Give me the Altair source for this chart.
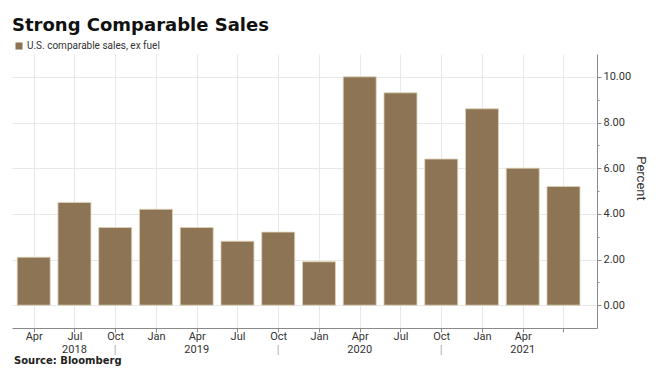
import altair as alt
import pandas as pd

months = ["Apr", "Jul", "Oct", "Jan", "Apr", "Jul", "Oct", "Jan", "Apr", "Jul", "Oct", "Jan", "Apr", ""]
values = [2.1, 4.5, 3.4, 4.2, 3.4, 2.8, 3.2, 1.9, 10.0, 9.3, 6.4, 8.6, 6.0, 5.2]
years = ["2018", "2019", "2020", "2021"]
year_pos = [1, 4, 8, 12]
year_breaks = [2, 6, 10]
y_ticks = list(range(0, 11))
series = "U.S. comparable sales, ex fuel"

FONT = "Roboto"
BAR = "#8c7454"

df = pd.DataFrame({"idx": list(range(len(values))), "value": values, "series": series})
yr = pd.DataFrame({"idx": year_pos, "year": years})
brk = pd.DataFrame({"idx": year_breaks})
src = pd.DataFrame({"t": ["Source: Bloomberg"]})

W, H = 585, 274
xscale = alt.Scale(domain=[-0.41, 13.70], nice=False, zero=False)
label_expr = "[" + ",".join("'" + m + "'" for m in months) + "][datum.value]"

x_axis = alt.Axis(
    values=list(range(len(values))), labelExpr=label_expr, title=None,
    grid=True, gridColor="#e8e8e8", gridWidth=1,
    domainColor="#8a8a8a", tickColor="#8a8a8a", tickSize=4,
    labelFont=FONT, labelFontSize=11, labelColor="#333333", labelPadding=-2,
)
y_axis = alt.Axis(
    orient="right", values=y_ticks,
    labelExpr="datum.value % 2 === 0 ? format(datum.value, '.2f') : ''",
    grid=True, gridColor={"condition": {"test": "datum.value % 2 === 0", "value": "#e8e8e8"}, "value": "rgba(0,0,0,0)"},
    domainColor="#8a8a8a", tickColor="#8a8a8a",
    tickSize={"condition": {"test": "datum.value % 2 === 0", "value": 4}, "value": 2},
    labelFont=FONT, labelFontSize=11, labelColor="#333333", labelPadding=2,
    title="Percent", titleAngle=90, titleFont=FONT, titleFontSize=13,
    titleFontWeight="normal", titleColor="#333333",
    titleX=43, titleY=124, titleAlign="center", titleBaseline="middle",
)

bars = alt.Chart(df).mark_bar(width=33, stroke="#e0d4b8", strokeWidth=0.8).encode(
    x=alt.X("idx:Q", scale=xscale, axis=x_axis),
    y=alt.Y("value:Q", scale=alt.Scale(domain=[-1, 11], nice=False), axis=y_axis),
    color=alt.Color("series:N", scale=alt.Scale(range=[BAR]),
                    legend=alt.Legend(title=None, orient="none", legendX=2, legendY=-13,
                                      symbolType="square", symbolSize=50, symbolStrokeWidth=0,
                                      labelFont=FONT, labelFontSize=10, labelColor="#333333",
                                      symbolOffset=0, labelOffset=3)),
)

year_text = alt.Chart(yr).mark_text(font=FONT, fontSize=11, color="#333333", baseline="middle").encode(
    x=alt.X("idx:Q", scale=xscale), y=alt.value(H + 22), text="year:N"
)
breaks = alt.Chart(brk).mark_rule(color="#b0b0b0", strokeWidth=1).encode(
    x=alt.X("idx:Q", scale=xscale), y=alt.value(H + 17), y2=alt.value(H + 27)
)
source = alt.Chart(src).mark_text(font="DejaVu Sans", fontSize=10, fontWeight="bold", color="#222222",
                                  align="left", baseline="middle").encode(
    x=alt.value(2), y=alt.value(H + 33), text="t:N"
)

chart = alt.layer(bars, year_text, breaks, source).properties(
    width=W, height=H,
    title=alt.Title("Strong Comparable Sales", anchor="start", font="DejaVu Sans", fontSize=18,
                    fontWeight="bold", color="#111111", offset=6),
    autosize=alt.AutoSizeParams(type="none"),
    padding={"left": 4, "top": 46, "right": 67, "bottom": 42},
).configure_view(stroke=None)

chart.save("out.html", embed_options={"renderer": "svg", "actions": False})
